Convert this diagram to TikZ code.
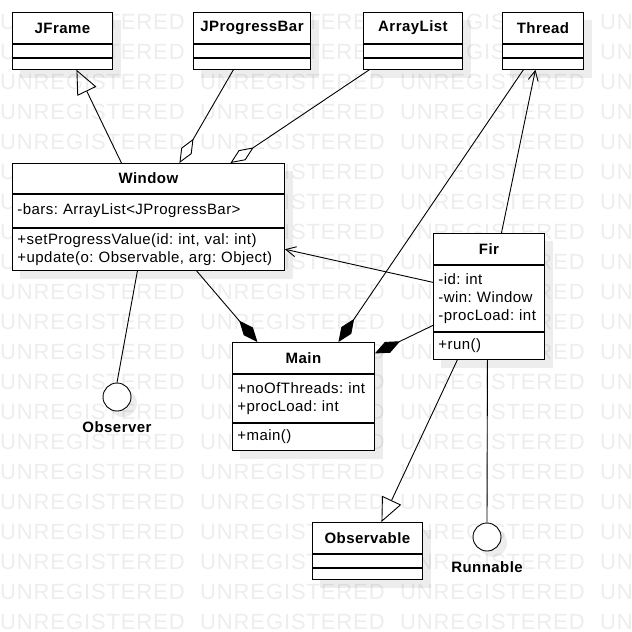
\documentclass[tikz,border=0pt]{standalone}
\usepackage{fontspec}
\setmainfont{Liberation Sans}[LetterSpace=3]
\newfontfamily\wmfont{Liberation Sans}[LetterSpace=4]
\usetikzlibrary{positioning,arrows.meta,backgrounds}

\begin{document}
\begin{tikzpicture}[
x=1pt, y=-1pt,
line width=0.9pt,
font=\fontsize{15}{18}\selectfont,
ctitle/.style={draw, fill=white, minimum height=31pt, inner sep=0pt, anchor=north west, font=\fontsize{15}{18}\selectfont\bfseries},
cpart/.style={draw, fill=white, text width=#1, align=left, inner xsep=5pt, inner ysep=0pt},
iface/.style={draw, circle, fill=white, minimum size=28pt, inner sep=0pt},
ilabel/.style={inner sep=0pt, font=\fontsize{15}{18}\selectfont\bfseries},
gen/.style={-{Triangle[open, length=24pt, width=21pt]}},
agg/.style={{Diamond[open, length=28pt, width=12pt]}-},
comp/.style={{Diamond[length=28pt, width=12pt]}-},
assoc/.style={-{Straight Barb[length=10pt, width=10pt]}},
wmark/.style={text=black!7, anchor=west, inner sep=0pt, font=\fontsize{22}{22}\selectfont\wmfont},
cshadow/.style={fill=black, opacity=0.07}
]
\useasboundingbox (0,0) rectangle (632,632);

% library classes along the top
\foreach \n/\x/\w/\tw/\t in {jf/12/100/90/JFrame, jpb/193/117/107/JProgressBar, al/363/99/89/ArrayList, th/502/81/71/Thread}{
  \node[ctitle, minimum width=\w pt] (\n) at (\x,12) {\t};
  \node[cpart=\tw pt, minimum height=13pt, below=0pt of \n] (\n1) {};
  \node[cpart=\tw pt, minimum height=11pt, below=0pt of \n1] (\n2) {};
}

\node[ctitle, minimum width=272pt, minimum height=30pt] (win) at (12,163) {Window};
\node[cpart=262pt, minimum height=33pt, below=0pt of win] (wina) {-bars:~ArrayList<JProgressBar>};
\node[cpart=262pt, minimum height=42pt, below=0pt of wina] (winm) {+setProgressValue(id:~int,~val:~int)\\+update(o:~Observable,~arg:~Object)};

\node[ctitle, minimum width=111pt] (fir) at (433,233) {Fir};
\node[cpart=101pt, minimum height=66pt, below=0pt of fir] (fira) {-id:~int\\-win:~Window\\-procLoad:~int};
\node[cpart=101pt, minimum height=27pt, below=0pt of fira] (firm) {+run()};

\node[ctitle, minimum width=142pt] (main) at (232,342) {Main};
\node[cpart=132pt, minimum height=48pt, below=0pt of main] (maina) {+noOfThreads:~int\\+procLoad:~int};
\node[cpart=132pt, minimum height=27pt, below=0pt of maina] (mainm) {+main()};

\node[ctitle, minimum width=110pt] (obsv) at (312,522) {Observable};
\node[cpart=100pt, minimum height=13pt, below=0pt of obsv] (obsv1) {};
\node[cpart=100pt, minimum height=11pt, below=0pt of obsv1] (obsv2) {};

% interfaces
\node[iface] (obs) at (117,397) {};
\node[ilabel, below=10pt of obs] (obsl) {Observer};
\node[iface] (run) at (487,537) {};
\node[ilabel, below=10pt of run] (runl) {Runnable};

\draw[gen] ([xshift=-27pt]win.north) -- ([xshift=14pt]jf2.south);
\draw[agg] ([xshift=31pt]win.north) -- ([xshift=-18.5pt]jpb2.south);
\draw[agg] ([xshift=82pt]win.north) -- ([xshift=-43.5pt]al2.south);
\draw[assoc] ([yshift=16pt]fira.west) -- (winm.east);
\draw[comp] ([xshift=35pt]main.north) -- ([xshift=-19.5pt]th2.south);
\draw[comp] ([xshift=-46pt]main.north) -- ([xshift=48pt]winm.south);
\draw[comp] ([yshift=4.5pt]main.east) -- ([yshift=-27pt]fira.west);
\draw[assoc] ([xshift=12.5pt]fir.north) -- ([xshift=-7.5pt]th2.south);
\draw[gen] ([xshift=-31.5pt]firm.south) -- ([xshift=14pt]obsv.north);
\draw ([xshift=-1.5pt]firm.south) -- (run.north);
\draw ([xshift=-11pt]winm.south) -- (obs.north);

% watermark and shadows behind everything
\begin{scope}[on background layer]
\clip (0,0) rectangle (632,632);
\foreach \r in {0,...,20}
  \foreach \c in {0,...,3}
    \node[wmark] (wm-\r-\c) at (200*\c, 22+30*\r) {UNREGISTERED};
\foreach \a/\b in {jf/jf2, jpb/jpb2, al/al2, th/th2, win/winm, fir/firm, main/mainm, obsv/obsv2}
  \fill[cshadow] ([shift={(8pt,-8pt)}]\a.north west) rectangle ([shift={(8pt,-8pt)}]\b.south east);
\foreach \a in {obs, run}
  \fill[cshadow] ([shift={(6pt,-6pt)}]\a.center) circle (14pt);
\end{scope}
\end{tikzpicture}
\end{document}
